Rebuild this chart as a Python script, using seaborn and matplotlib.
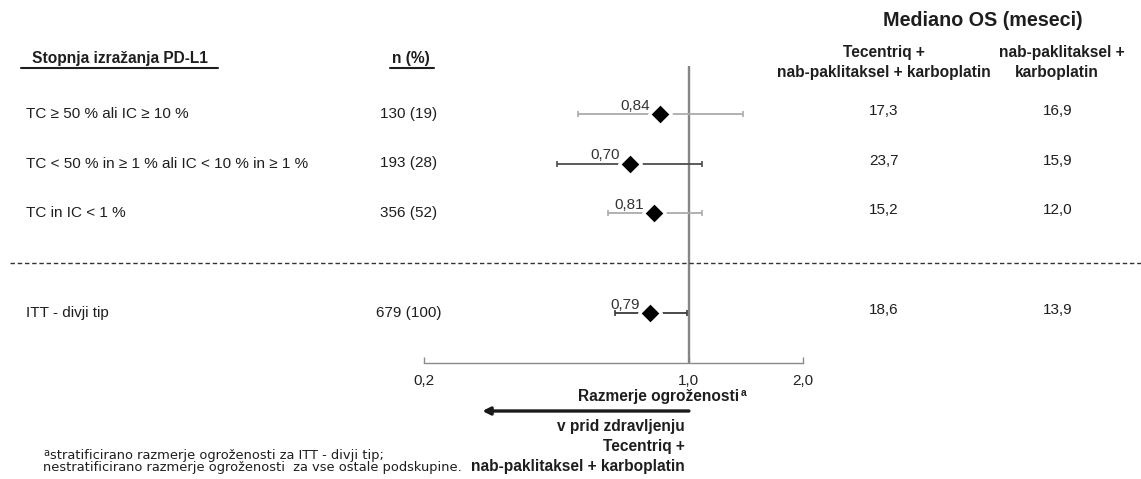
import numpy as np
import pandas as pd
import matplotlib
matplotlib.use("Agg")
import matplotlib.pyplot as plt
import seaborn as sns
from matplotlib.transforms import blended_transform_factory
from matplotlib.ticker import NullLocator

# ---------------- data ----------------
subgroups = ["TC ≥ 50 % ali IC ≥ 10 %",
             "TC < 50 % in ≥ 1 % ali IC < 10 % in ≥ 1 %",
             "TC in IC < 1 %",
             "ITT - divji tip"]
n_pct = ["130 (19)", "193 (28)", "356 (52)", "679 (100)"]
hr = [0.84, 0.70, 0.81, 0.79]
ci_low = [0.51, 0.45, 0.61, 0.64]
ci_high = [1.39, 1.08, 1.08, 0.99]
hr_labels = ["0,84", "0,70", "0,81", "0,79"]
os_tecentriq = ["17,3", "23,7", "15,2", "18,6"]
os_control = ["16,9", "15,9", "12,0", "13,9"]
xticks = [0.2, 1.0, 2.0]
xtick_labels = ["0,2", "1,0", "2,0"]

# ---------------- layout ----------------
W, H = 1141, 479
sns.set_theme(style="white")
plt.rcParams['font.family'] = ['Liberation Sans', 'DejaVu Sans']
plt.rcParams['text.color'] = '#1e1e1e'

FS = 11.0      # body text
FSB = 11.2     # bold labels

fig = plt.figure(figsize=(W / 100, H / 100), dpi=100)
fig.patch.set_facecolor("white")

def fx(px):
    return px / W

def fy(py):
    return 1 - py / H

ax_top, ax_bot = 66, 363
ax = fig.add_axes([fx(424), fy(ax_bot), fx(803) - fx(424), (ax_bot - ax_top) / H])
ax.set_facecolor("none")

ypos = np.array([0.0, 1.0, 2.0, 4.02])
row0_px, unit = 114, 49.5
ax.set_ylim((ax_bot - row0_px) / unit, (ax_top - row0_px) / unit)
ax.set_xscale("log")
ax.set_xlim(0.2, 2.0)

df = pd.DataFrame(dict(subgroup=subgroups, hr=hr, lo=ci_low, hi=ci_high, y=ypos))

# reference line at HR = 1
ax.axvline(1.0, color="#858585", lw=1.7, zorder=1)

ci_colors = ["#ababab", "#4d4d4d", "#ababab", "#3a3a3a"]
for i, row in df.iterrows():
    ax.errorbar(row.hr, row.y, xerr=[[row.hr - row.lo], [row.hi - row.hr]],
                fmt="none", ecolor=ci_colors[i], elinewidth=1.3,
                capsize=2.5, capthick=1.2, zorder=2)

sns.scatterplot(data=df, x="hr", y="y", marker="D", s=125, color="black",
                edgecolor="white", linewidth=2.2, ax=ax, zorder=5, legend=False)

for i, row in df.iterrows():
    ax.annotate(hr_labels[i], (row.hr, row.y), xytext=(-7.5, 6),
                textcoords="offset points", ha="right", va="center",
                fontsize=FS, color="#333333")

ax.set_xlabel("")
ax.set_ylabel("")
ax.set_yticks([])
ax.set_xticks(xticks)
ax.set_xticklabels(xtick_labels)
ax.xaxis.set_minor_locator(NullLocator())
for s in ["left", "top", "right"]:
    ax.spines[s].set_visible(False)
ax.spines["bottom"].set_color("#8a8a8a")
ax.spines["bottom"].set_linewidth(1.0)
ax.tick_params(axis="x", direction="in", length=4, width=1, color="#8a8a8a",
               labelsize=FS, pad=8, labelcolor="#222222", bottom=True)

tr = blended_transform_factory(fig.transFigure, ax.transData)

# dashed separator
ax.plot([fx(10), fx(1141)], [3.0, 3.0], transform=tr, ls=(0, (3.2, 2)),
        color="#333333", lw=1.0, clip_on=False)

# row texts
for i in range(len(subgroups)):
    y = ypos[i]
    ax.text(fx(26), y, subgroups[i], transform=tr, ha="left", va="center", fontsize=FS)
    ax.text(fx(409), y, n_pct[i], transform=tr, ha="center", va="center", fontsize=FS)
    ax.text(fx(884), y - 0.06, os_tecentriq[i], transform=tr, ha="center", va="center", fontsize=FS)
    ax.text(fx(1058), y - 0.06, os_control[i], transform=tr, ha="center", va="center", fontsize=FS)

# column headers
fig.text(fx(32), fy(59), "Stopnja izražanja PD-L1", ha="left", va="center",
         fontsize=FSB, fontweight="bold")
fig.add_artist(plt.Line2D([fx(21), fx(218)], [fy(68), fy(68)], color="#1e1e1e", lw=1.5))
fig.text(fx(411), fy(59), "n (%)", ha="center", va="center", fontsize=FSB, fontweight="bold")
fig.add_artist(plt.Line2D([fx(390), fx(434)], [fy(68), fy(68)], color="#1e1e1e", lw=1.5))

fig.text(fx(983), fy(21), "Mediano OS (meseci)", ha="center", va="center",
         fontsize=14.2, fontweight="bold")
fig.text(fx(884), fy(52), "Tecentriq +", ha="center", va="center", fontsize=FSB, fontweight="bold")
fig.text(fx(884), fy(72), "nab-paklitaksel + karboplatin", ha="center", va="center",
         fontsize=FSB, fontweight="bold")
fig.text(fx(1062), fy(52), "nab-paklitaksel +", ha="center", va="center", fontsize=FSB, fontweight="bold")
fig.text(fx(1057), fy(72), "karboplatin", ha="center", va="center", fontsize=FSB, fontweight="bold")

# x-axis title and direction annotation
fig.text(fx(739), fy(397), "Razmerje ogroženosti", ha="right", va="center",
         fontsize=FSB, fontweight="bold")
fig.text(fx(741), fy(393), "a", ha="left", va="center", fontsize=7.5, fontweight="bold")
arrow_tr = blended_transform_factory(ax.transData, fig.transFigure)
ax.annotate("", xy=(0.285, fy(411)), xytext=(1.0, fy(411)),
            xycoords=arrow_tr, textcoords=arrow_tr, annotation_clip=False,
            arrowprops=dict(arrowstyle="-|>", color="#1a1a1a", lw=2.4,
                            mutation_scale=11, shrinkA=0, shrinkB=0))
fig.text(fx(685), fy(427), "v prid zdravljenju", ha="right", va="center",
         fontsize=FSB, fontweight="bold")
fig.text(fx(685), fy(446), "Tecentriq +", ha="right", va="center",
         fontsize=FSB, fontweight="bold")
fig.text(fx(685), fy(466), "nab-paklitaksel + karboplatin", ha="right", va="center",
         fontsize=FSB, fontweight="bold")

# footnote
fn_font = ["DejaVu Sans"]
fig.text(fx(43), fy(453), "a", ha="left", va="center", fontsize=7, family=fn_font)
fig.text(fx(50), fy(456), "stratificirano razmerje ogroženosti za ITT - divji tip;",
         ha="left", va="center", fontsize=9.4, family=fn_font)
fig.text(fx(43), fy(468), "nestratificirano razmerje ogroženosti  za vse ostale podskupine.",
         ha="left", va="center", fontsize=9.4, family=fn_font)

fig.savefig("out.png", dpi=100, facecolor="white")
